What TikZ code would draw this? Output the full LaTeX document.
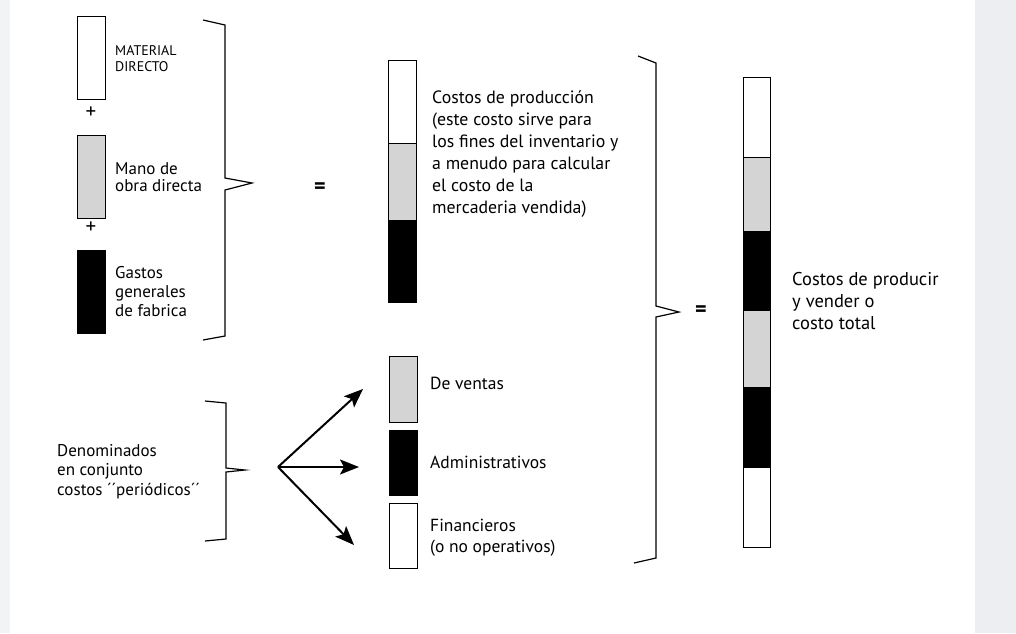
\documentclass[tikz,border=0pt]{standalone}
\usepackage{fontspec}
\setmainfont{PT Sans}
\usetikzlibrary{arrows.meta}
\definecolor{barGray}{RGB}{212,212,212}
\definecolor{wmGray}{RGB}{236,238,241}
\definecolor{wmLeft}{RGB}{242,243,245}
\tikzset{
  bar/.style={draw=black, line width=0.9pt, inner sep=0pt, anchor=north},
  brk/.style={draw=black, line width=1.2pt, line join=miter},
  lbl/.style={anchor=north west, inner sep=0pt, align=left, text=black},
  arr/.style={draw=black, line width=2pt, -{Stealth[length=19pt,width=15pt,inset=4pt]}},
  eq/.style={inner sep=0pt, font=\fontsize{22}{22}\selectfont\bfseries},
  plus/.style={inner sep=0pt, font=\fontsize{21}{21}\selectfont}
}
\begin{document}
\begin{tikzpicture}[x=1pt, y=-1pt]
\useasboundingbox (0,0) rectangle (1016,633);
% faint background
\fill[white] (0,0) rectangle (1016,633);
\fill[wmGray] (975,0) rectangle (1016,633);
\fill[wmLeft] (0,0) rectangle (10,633);

% ---- left column bars
\node[bar, fill=white, minimum width=28pt, minimum height=83pt] (md) at (91,16) {};
\node[plus] (p1) at (91,113) {+};
\node[bar, fill=barGray, minimum width=28pt, minimum height=83pt] (mo) at (91,135) {};
\node[plus] (p2) at (91,228) {+};
\node[bar, fill=black, minimum width=28pt, minimum height=83pt] (gg) at (91,250) {};

\node[lbl, font=\fontsize{14}{16}\selectfont] (tmd) at (115,45) {MATERIAL\\DIRECTO};
\node[lbl, font=\fontsize{17}{17.5}\selectfont] (tmo) at (115,162) {Mano de\\obra directa};
\node[lbl, font=\fontsize{17}{19}\selectfont] (tgg) at (115,266) {Gastos\\generales\\de fabrica};

% bracket 1
\coordinate (b1t) at (203,20);
\coordinate (b1b) at (203,340);
\draw[brk] (b1t) -- (225,25) -- (225,178) -- (252,183) -- (225,190) -- (225,336) -- (b1b);
\node[eq] (eq1) at (320,188) {=};

% ---- middle production bar
\node[bar, fill=black, minimum width=28pt, minimum height=82pt] (pk) at (402,220) {};
\node[bar, fill=barGray, minimum width=28pt, minimum height=77pt] (pg) at (402,143) {};
\node[bar, fill=white, minimum width=28pt, minimum height=83pt] (pw) at (402,60) {};
\node[lbl, font=\fontsize{17.8}{22}\selectfont] (tprod) at (432,90) {Costos de producción\\(este costo sirve para\\los fines del inventario y\\a menudo para calcular\\el costo de la\\mercaderia vendida)};

% ---- lower periodic costs
\node[bar, fill=barGray, minimum width=28pt, minimum height=66pt] (ve) at (403,356) {};
\node[bar, fill=black, minimum width=28pt, minimum height=65pt] (ad) at (403,430) {};
\node[bar, fill=white, minimum width=28pt, minimum height=65pt] (fi) at (403,503) {};
\node[lbl, font=\fontsize{17.5}{21}\selectfont] (tve) at (430,377) {De ventas};
\node[lbl, font=\fontsize{17.5}{21}\selectfont] (tad) at (430,456) {Administrativos};
\node[lbl, font=\fontsize{17.5}{21}\selectfont] (tfi) at (430,519) {Financieros\\(o no operativos)};

\node[lbl, font=\fontsize{17}{19.5}\selectfont] (tden) at (57,444) {Denominados\\en conjunto\\costos ´´periódicos´´};
\coordinate (b3t) at (205,401);
\coordinate (b3b) at (205,541);
\draw[brk] (b3t) -- (226,403) -- (226,468) -- (245,470) -- (226,472) -- (226,539) -- (b3b);

\coordinate (o) at (278,467);
\coordinate (aup) at (363,389);
\coordinate (amid) at (359,467);
\coordinate (adn) at (354,545);
\draw[arr] (o) -- (aup);
\draw[arr] (o) -- (amid);
\draw[arr] (o) -- (adn);

% bracket 2
\coordinate (b2t) at (638,56);
\coordinate (b2b) at (634,563);
\draw[brk] (b2t) -- (656,63) -- (656,306) -- (679,312) -- (656,317) -- (656,558) -- (b2b);
\node[eq] (eq2) at (701,311) {=};

% ---- right total bar
\node[bar, fill=white, minimum width=27pt, minimum height=80pt] (r1) at (756.5,77) {};
\node[bar, fill=barGray, minimum width=27pt, minimum height=74pt] (r2) at (756.5,157) {};
\node[bar, fill=black, minimum width=27pt, minimum height=79pt] (r3) at (756.5,231) {};
\node[bar, fill=barGray, minimum width=27pt, minimum height=77pt] (r4) at (756.5,310) {};
\node[bar, fill=black, minimum width=27pt, minimum height=80pt] (r5) at (756.5,387) {};
\node[bar, fill=white, minimum width=27pt, minimum height=80pt] (r6) at (756.5,467) {};
\node[lbl, font=\fontsize{18.5}{22}\selectfont] (ttot) at (792,272) {Costos de producir\\y vender o\\costo total};
\end{tikzpicture}
\end{document}
